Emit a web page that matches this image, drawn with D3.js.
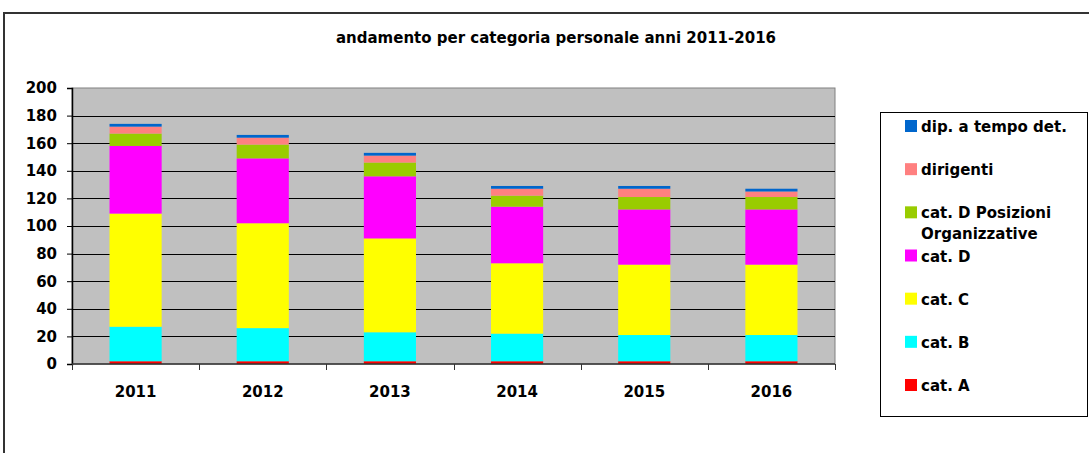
<!DOCTYPE html>
<html>
<head>
<meta charset="utf-8">
<script src="https://cdn.jsdelivr.net/npm/d3@7"></script>
<style>
  body { margin: 0; background: #fff; }
  text { font-family: "DejaVu Sans", Verdana, sans-serif; font-weight: bold; }
</style>
</head>
<body>
<script>
// data
var years = ["2011", "2012", "2013", "2014", "2015", "2016"];
var catA = [2, 2, 2, 2, 2, 2];
var catB = [25, 24, 21, 20, 19, 19];
var catC = [82, 76, 68, 51, 51, 51];
var catD = [49, 47, 45, 41, 40, 40];
var catDPO = [9, 10, 10, 8, 9, 9];
var dirigenti = [5, 5, 5, 5, 6, 4];
var tempoDet = [2, 2, 2, 2, 2, 2];
var yTicks = [0, 20, 40, 60, 80, 100, 120, 140, 160, 180, 200];

var series = [
  {name: "cat. A", values: catA, color: "#ff0000"},
  {name: "cat. B", values: catB, color: "#00ffff"},
  {name: "cat. C", values: catC, color: "#ffff00"},
  {name: "cat. D", values: catD, color: "#ff00ff"},
  {name: "cat. D Posizioni Organizzative", values: catDPO, color: "#99cc00"},
  {name: "dirigenti", values: dirigenti, color: "#ff8080"},
  {name: "dip. a tempo det.", values: tempoDet, color: "#0066cc"}
];

var width = 1089, height = 453;
var plot = {left: 72, right: 835, top: 88, bottom: 364};

var svg = d3.select("body").append("svg")
    .attr("width", width)
    .attr("height", height);

// outer frame
svg.append("rect")
    .attr("x", 4).attr("y", 13)
    .attr("width", 1100).attr("height", 460)
    .attr("fill", "#fff")
    .attr("stroke", "#333")
    .attr("stroke-width", 2);

svg.append("text")
    .attr("x", 556).attr("y", 43)
    .attr("text-anchor", "middle")
    .attr("font-size", "15px")
    .text("andamento per categoria personale anni 2011-2016");

var x = d3.scaleBand()
    .domain(years)
    .range([plot.left, plot.right])
    .paddingInner(0.59)
    .paddingOuter(0.295);

var y = d3.scaleLinear()
    .domain([0, 200])
    .range([plot.bottom, plot.top]);

// plot background
svg.append("rect")
    .attr("x", plot.left).attr("y", plot.top)
    .attr("width", plot.right - plot.left)
    .attr("height", plot.bottom - plot.top)
    .attr("fill", "#c0c0c0")
    .attr("stroke", "#808080")
    .attr("stroke-width", 1);

// gridlines
svg.append("g").selectAll("line")
    .data(yTicks.slice(1, -1))
    .enter().append("line")
    .attr("x1", plot.left).attr("x2", plot.right)
    .attr("y1", function(d) { return Math.round(y(d)) + 0.5; })
    .attr("y2", function(d) { return Math.round(y(d)) + 0.5; })
    .attr("stroke", "#000")
    .attr("stroke-width", 1);

// stacked bars
var rows = years.map(function(yr, i) {
  var r = {year: yr};
  series.forEach(function(s) { r[s.name] = s.values[i]; });
  return r;
});
var stack = d3.stack().keys(series.map(function(s) { return s.name; }));
var stacked = stack(rows);

svg.append("g").selectAll("g")
    .data(stacked)
    .enter().append("g")
    .attr("fill", function(d, i) { return series[i].color; })
  .selectAll("rect")
    .data(function(d) { return d; })
    .enter().append("rect")
    .attr("x", function(d) { return x(d.data.year); })
    .attr("width", x.bandwidth())
    .attr("y", function(d) { return y(d[1]); })
    .attr("height", function(d) { return y(d[0]) - y(d[1]); });

// y axis
var yAxis = svg.append("g")
    .attr("transform", "translate(" + plot.left + ",0)")
    .call(d3.axisLeft(y).tickValues(yTicks).tickSize(5).tickPadding(10));
yAxis.select(".domain").attr("stroke", "#000").attr("stroke-width", 1.5);
yAxis.selectAll("text").attr("font-size", "15px").attr("fill", "#000")
    .style("font-family", "'DejaVu Sans', Verdana, sans-serif").style("font-weight", "bold");

// x axis: ticks on band edges
var xAxis = svg.append("g")
    .attr("transform", "translate(0," + plot.bottom + ")");
xAxis.append("line")
    .attr("x1", plot.left).attr("x2", plot.right)
    .attr("y1", 0).attr("y2", 0)
    .attr("stroke", "#333").attr("stroke-width", 1.5);
var edges = years.map(function(d) { return x(d) - x.step() * x.paddingInner() / 2; });
edges.push(plot.right);
xAxis.selectAll(".edge")
    .data(edges)
    .enter().append("line")
    .attr("x1", function(d) { return Math.round(d) + 0.5; })
    .attr("x2", function(d) { return Math.round(d) + 0.5; })
    .attr("y1", 0).attr("y2", 6)
    .attr("stroke", "#333");
xAxis.selectAll(".lab")
    .data(years)
    .enter().append("text")
    .attr("x", function(d) { return x(d) + x.bandwidth() / 2; })
    .attr("y", 33)
    .attr("text-anchor", "middle")
    .attr("font-size", "15px")
    .text(function(d) { return d; });

// legend
var legend = svg.append("g");
legend.append("rect")
    .attr("x", 880.5).attr("y", 112.5)
    .attr("width", 207).attr("height", 304)
    .attr("fill", "#fff")
    .attr("stroke", "#000");

var legendRows = series.slice().reverse();
var legendY = d3.scalePoint()
    .domain(legendRows.map(function(s) { return s.name; }))
    .range([126, 385]);

var item = legend.selectAll(".item")
    .data(legendRows)
    .enter().append("g")
    .attr("transform", function(d) { return "translate(905," + legendY(d.name) + ")"; });
item.append("rect")
    .attr("x", 0).attr("y", -6)
    .attr("width", 12).attr("height", 12)
    .attr("fill", function(d) { return d.color; });
item.append("text")
    .attr("x", 16).attr("y", 6)
    .attr("font-size", "15px")
    .each(function(d) {
      var t = d3.select(this);
      if (d.name === "cat. D Posizioni Organizzative") {
        t.append("tspan").attr("x", 16).text("cat. D Posizioni");
        t.append("tspan").attr("x", 16).attr("dy", 21).text("Organizzative");
      } else {
        t.text(d.name);
      }
    });
</script>
</body>
</html>
